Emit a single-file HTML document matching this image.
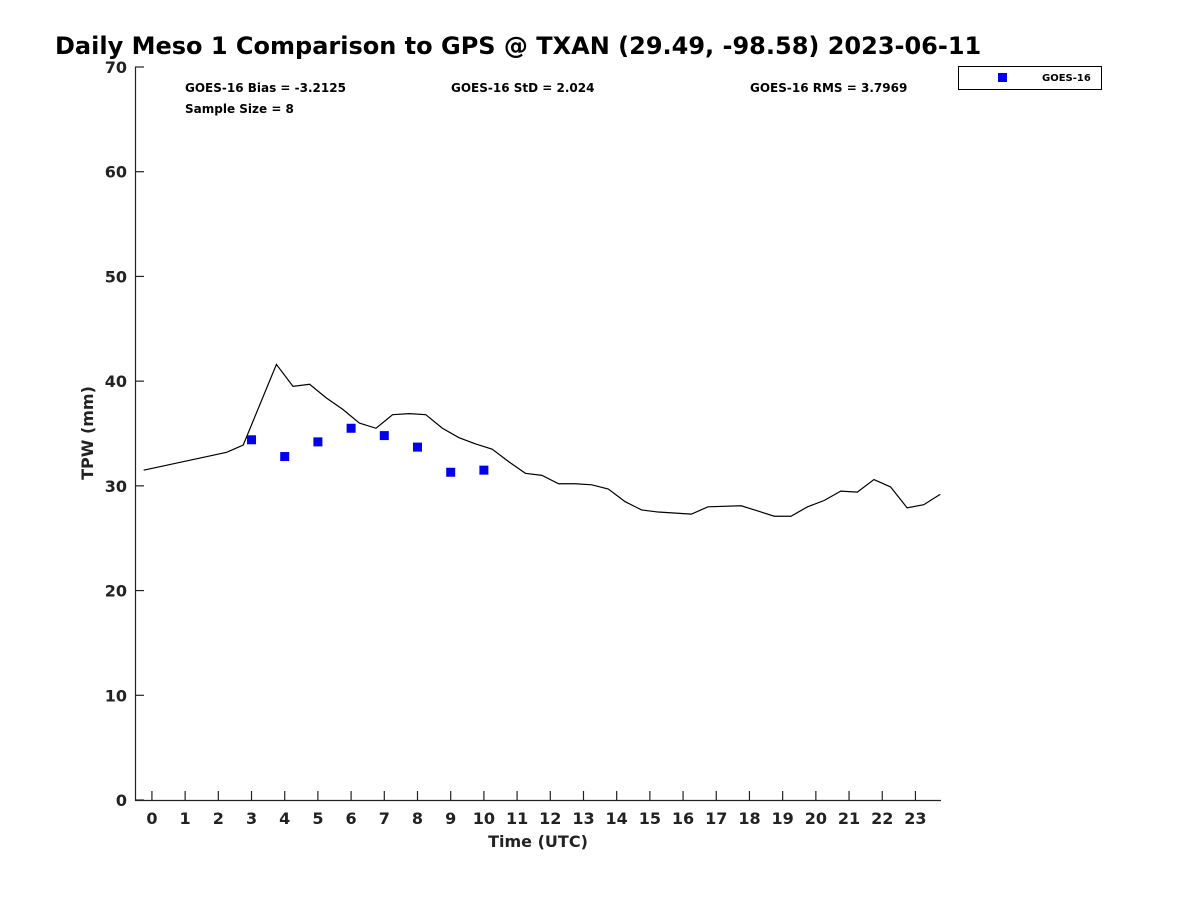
<!DOCTYPE html>
<html><head><meta charset="utf-8"><style>
body{margin:0;background:#fff;}
svg text{font-family:"DejaVu Sans","Liberation Sans",sans-serif;font-weight:bold;fill:#222;}
</style></head><body>
<svg id="chart" width="1200" height="900" xmlns="http://www.w3.org/2000/svg">
<text x="55" y="54" font-size="24" style="fill:#000">Daily Meso 1 Comparison to GPS @ TXAN (29.49, -98.58) 2023-06-11</text>
<text x="185" y="92" font-size="12" style="fill:#000">GOES-16 Bias = -3.2125</text>
<text x="451" y="92" font-size="12" style="fill:#000">GOES-16 StD = 2.024</text>
<text x="750" y="92" font-size="12" style="fill:#000">GOES-16 RMS = 3.7969</text>
<text x="185" y="113" font-size="12" style="fill:#000">Sample Size = 8</text>
<g>
<rect x="958.5" y="66.5" width="143" height="23" fill="#fff" stroke="#000"/>
<rect x="998" y="73" width="9" height="9" fill="#0000ee"/>
<text x="1042" y="81" font-size="10" style="fill:#000">GOES-16</text>
</g>
<text transform="translate(93,433) rotate(-90)" font-size="16" text-anchor="middle">TPW (mm)</text>
<text x="538" y="847" font-size="16" text-anchor="middle">Time (UTC)</text>
<g id="axes"></g>
<g id="marks"></g>
</svg>
<script>
const gpsTimes=[-0.25,2.25,2.75,3.75,4.25,4.75,5.25,5.75,6.25,6.75,7.25,7.75,8.25,8.75,9.25,9.75,10.25,10.75,11.25,11.75,12.25,12.75,13.25,13.75,14.25,14.75,15.25,16.25,16.75,17.75,18.25,18.75,19.25,19.75,20.25,20.75,21.25,21.75,22.25,22.75,23.25,23.75];
const gpsValues=[31.5,33.2,33.9,41.6,39.5,39.7,38.4,37.3,36.0,35.5,36.8,36.9,36.8,35.5,34.6,34.0,33.5,32.3,31.2,31.0,30.2,30.2,30.1,29.7,28.5,27.7,27.5,27.3,28.0,28.1,27.6,27.1,27.1,28.0,28.6,29.5,29.4,30.6,29.9,27.9,28.2,29.2];
const goesTimes=[3,4,5,6,7,8,9,10];
const goesValues=[34.4,32.8,34.2,35.5,34.8,33.7,31.3,31.5];
const xTicks=[0,1,2,3,4,5,6,7,8,9,10,11,12,13,14,15,16,17,18,19,20,21,22,23];
const yTicks=[0,10,20,30,40,50,60,70];
const NS='http://www.w3.org/2000/svg';
const L=135,R=941,T=67,B=800,X0=-0.51,X1=23.77,Y0=0,Y1=70;
const xs=v=>L+(v-X0)/(X1-X0)*(R-L);
const ys=v=>B-(v-Y0)/(Y1-Y0)*(B-T);
function mk(tag,attrs,parent){const e=document.createElementNS(NS,tag);for(const k in attrs)e.setAttribute(k,attrs[k]);parent.appendChild(e);return e;}
const axes=document.getElementById('axes'),marks=document.getElementById('marks');
let a=mk('path',{d:`M${L+0.5},${T} V${B+0.5} H${R}`,fill:'none',stroke:'#222','stroke-width':1.2},axes);


yTicks.forEach(v=>{const y=ys(v);
 const t=mk('line',{x1:L,x2:L+9,y1:y,y2:y,stroke:'#222','stroke-width':1.2},axes);
 
 
 const tx=mk('text',{x:L-8,y:y+6,'font-size':16,'text-anchor':'end'},axes);tx.textContent=v;
 
 
});
xTicks.forEach(v=>{const x=xs(v);
 const t=mk('line',{x1:x,x2:x,y1:B,y2:B-9,stroke:'#222','stroke-width':1.2},axes);
 
 
 const tx=mk('text',{x:x,y:824,'font-size':16,'text-anchor':'middle'},axes);tx.textContent=v;
 
 
});
const line=mk('polyline',{points:gpsTimes.map((t,i)=>xs(t)+','+ys(gpsValues[i])).join(' '),fill:'none',stroke:'#000','stroke-width':1.2},marks);


goesTimes.forEach((t,i)=>{
 const r=mk('rect',{x:xs(t)-4.5,y:ys(goesValues[i])-4.5,width:9,height:9,fill:'#0000ee'},marks);
 
 
});
</script>
</body></html>
